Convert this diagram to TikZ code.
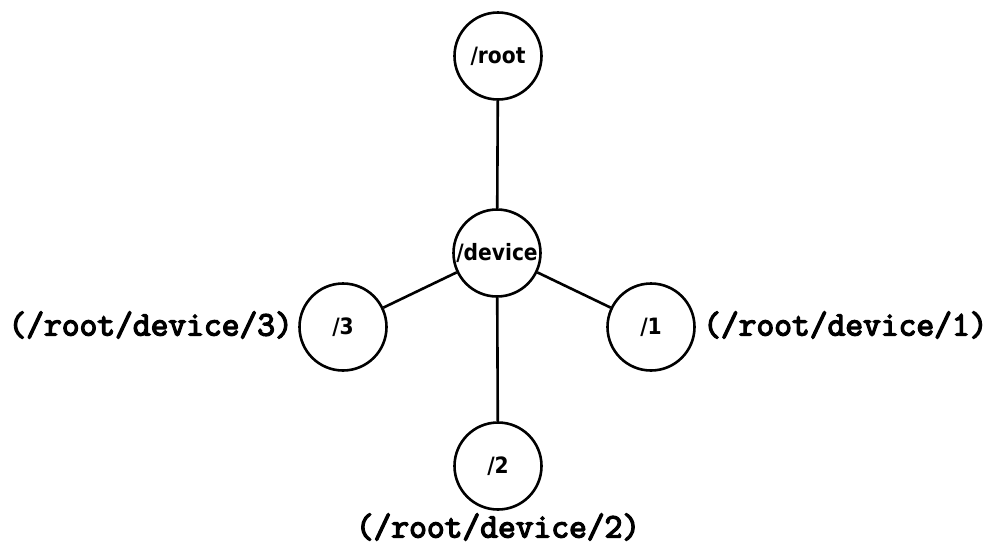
\documentclass[tikz,border=0pt]{standalone}
\usepackage{fontspec}
\setmainfont{DejaVu Sans Condensed}
\newfontfamily\pathfont[FakeBold=4]{Latin Modern Mono}
\begin{document}
\begin{tikzpicture}[x=1pt,y=-1pt,
  vertex/.style={circle,draw,line width=2.6pt,minimum size=87pt,inner sep=0pt,
    font=\bfseries\fontsize{22.5}{25}\selectfont},
  edge/.style={line width=2.6pt},
  pathlabel/.style={font=\pathfont\fontsize{34.5}{36}\selectfont,inner sep=0pt}]
\useasboundingbox (0,0) rectangle (987,544);
\node[vertex] (root)   at (498,56)  {/root};
\node[vertex] (device) at (497,253) {/device};
\node[vertex] (n3)     at (343,327) {/3};
\node[vertex] (n1)     at (651,327) {/1};
\node[vertex] (n2)     at (498,466) {/2};
\draw[edge] (root) -- (device);
\draw[edge] (device) -- (n3);
\draw[edge] (device) -- (n1);
\draw[edge] (device) -- (n2);
\node[pathlabel,anchor=east] (l3) at (293,325) {(/root/device/3)};
\node[pathlabel,anchor=west] (l1) at (703,325) {(/root/device/1)};
\node[pathlabel] (l2) at (498,527) {(/root/device/2)};
\end{tikzpicture}
\end{document}
